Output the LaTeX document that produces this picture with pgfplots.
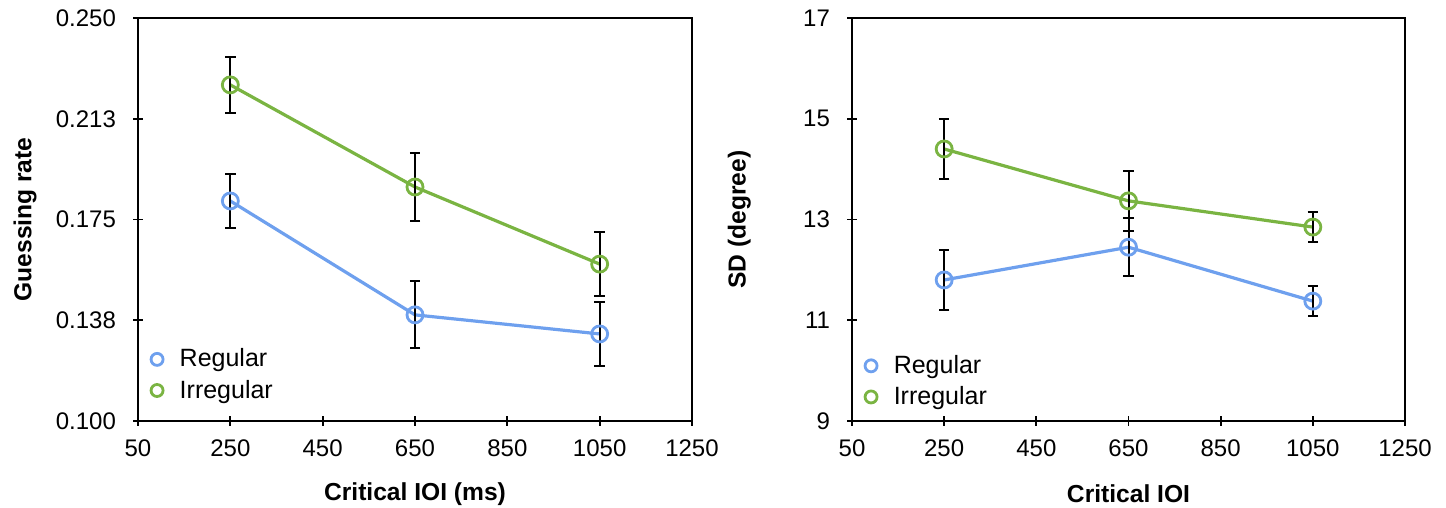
\documentclass[border=0pt]{standalone}
\usepackage{pgfplots}
\pgfplotsset{compat=1.18}
\usepackage{fontspec}
\setmainfont{Liberation Sans}
\definecolor{cblue}{RGB}{110,160,238}
\definecolor{cgreen}{RGB}{122,180,66}
\pgfplotsset{
  panel/.style={
    scale only axis,
    width=277pt, height=201.5pt,
    xmin=50, xmax=1250,
    xtick={50,250,450,650,850,1050,1250},
    xtick pos=bottom, ytick pos=left,
    tick align=center,
    major tick length=5pt,
    axis line style={line width=0.9pt},
    tick style={line width=0.9pt, black},
    /pgf/number format/assume math mode=true,
    /pgf/number format/1000 sep={},
    tick label style={font=\fontsize{12}{14}\selectfont},
    xticklabel style={yshift=-3.5pt},
    yticklabel style={xshift=-5pt},
    label style={font=\bfseries\fontsize{12.3}{14}\selectfont},
    xlabel style={at={(axis description cs:0.5,-0.181)}, anchor=center},
    ylabel style={at={(axis description cs:-0.204,0.5)}, anchor=center, rotate=0},
    legend style={draw=none, fill=none, at={(axis description cs:0.0,0.19)}, anchor=north west,
      font=\fontsize{12.5}{14}\selectfont, row sep=1pt, inner sep=0pt},
    legend cell align=left,
    legend image code/.code={\path (0cm,0cm) (0.6cm,0cm); \draw[#1, mark size=3pt] plot coordinates {(0.3cm,0cm)};},
    every axis plot/.append style={line width=1.6pt, mark=o, mark size=4pt,
      mark options={fill=white, line width=1.4pt}},
  },
  ebar/.style={draw=none, mark=none, forget plot,
    error bars/.cd, y dir=both, y explicit,
    error bar style={line width=1pt, black},
    error mark options={rotate=90, mark size=2.6pt, line width=1pt, black}},
}
\begin{document}
\begin{tikzpicture}
\begin{axis}[panel, at={(69pt,43.5pt)}, anchor=south west,
  ymin=0.1, ymax=0.25,
  ytick={0.1,0.1375,0.175,0.2125,0.25},
  yticklabels={0.100,0.138,0.175,0.213,0.250},
  xlabel={Critical IOI (ms)}, ylabel={Guessing rate}]
\addplot[cblue] coordinates {(250,0.1819) (650,0.1395) (1050,0.1324)};
\addlegendentry{Regular}
\addplot[cgreen] coordinates {(250,0.2251) (650,0.1871) (1050,0.1584)};
\addlegendentry{Irregular}
\addplot[ebar] coordinates {(250,0.1819) +- (0,0.0100) (650,0.1395) +- (0,0.0125) (1050,0.1324) +- (0,0.0120)};
\addplot[ebar] coordinates {(250,0.2251) +- (0,0.0105) (650,0.1871) +- (0,0.0125) (1050,0.1584) +- (0,0.0120)};
\end{axis}
\begin{axis}[panel, at={(426pt,43.5pt)}, anchor=south west, width=276.5pt,
  ymin=9, ymax=17,
  ytick={9,11,13,15,17},
  legend style={at={(axis description cs:0.0,0.174)}},
  xlabel={Critical IOI}, ylabel={SD (degree)}]
\addplot[cblue] coordinates {(250,11.80) (650,12.45) (1050,11.38)};
\addlegendentry{Regular}
\addplot[cgreen] coordinates {(250,14.40) (650,13.37) (1050,12.85)};
\addlegendentry{Irregular}
\addplot[ebar] coordinates {(250,11.80) +- (0,0.60) (650,12.45) +- (0,0.58) (1050,11.38) +- (0,0.30)};
\addplot[ebar] coordinates {(250,14.40) +- (0,0.60) (650,13.37) +- (0,0.60) (1050,12.85) +- (0,0.30)};
\end{axis}
\pgfresetboundingbox
\path[use as bounding box] (0pt,0pt) rectangle (723pt,254pt);
\end{tikzpicture}
\end{document}
